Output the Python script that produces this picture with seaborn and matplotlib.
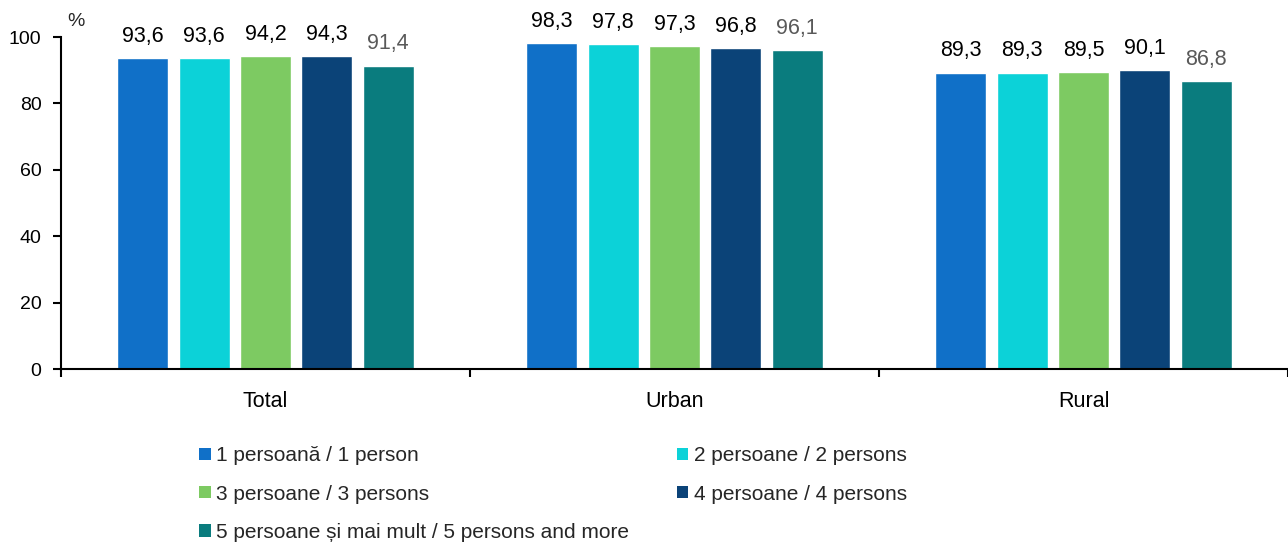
import pandas as pd
import numpy as np
import matplotlib.pyplot as plt
import seaborn as sns
from matplotlib.patches import Patch

areas = ["Total", "Urban", "Rural"]
sizes = ["1 persoană / 1 person", "2 persoane / 2 persons", "3 persoane / 3 persons",
         "4 persoane / 4 persons", "5 persoane și mai mult / 5 persons and more"]
p1 = [93.6, 98.3, 89.3]
p2 = [93.6, 97.8, 89.3]
p3 = [94.2, 97.3, 89.5]
p4 = [94.3, 96.8, 90.1]
p5 = [91.4, 96.1, 86.8]
colors = ["#1070C8", "#0CD2D8", "#7DCA62", "#0B4378", "#0A7C7E"]

rows = []
for s, vals in zip(sizes, [p1, p2, p3, p4, p5]):
    for a, v in zip(areas, vals):
        rows.append({"area": a, "size": s, "value": v})
df = pd.DataFrame(rows)

sns.set_theme(style="white")
plt.rcParams['font.family'] = ['Liberation Sans', 'DejaVu Sans']

fig = plt.figure(figsize=(12.88, 5.43), dpi=100)
ax = fig.add_axes([61/1288, 1 - 369/543, 1 - 61/1288, (369 - 37)/543])

sns.barplot(data=df, x="area", y="value", hue="size", order=areas, hue_order=sizes,
            palette=colors, width=0.75, gap=0.17, saturation=1, ax=ax, legend=False)

for i, cont in enumerate(ax.containers):
    labs = [f"{v:.1f}".replace(".", ",") for v in cont.datavalues]
    ax.bar_label(cont, labels=labs, padding=8, fontsize=15.5,
                 color="#595959" if i == 4 else "black")

ax.set_xlim(-0.5, 2.5)
ax.set_ylim(0, 100)
ax.set_yticks([0, 20, 40, 60, 80, 100])
ax.set_xlabel("")
ax.set_ylabel("")
for sp in ["top", "right"]:
    ax.spines[sp].set_visible(False)
for sp in ["left", "bottom"]:
    ax.spines[sp].set_color("black")
    ax.spines[sp].set_linewidth(1.5)
ax.tick_params(axis="y", left=True, length=6, width=1.5, labelsize=14, pad=8, colors="black")
ax.tick_params(axis="x", bottom=False, labelsize=15.5, pad=10, colors="black")
ax.set_xticks([-0.5, 0.5, 1.5, 2.5], minor=True)
ax.tick_params(axis="x", which="minor", bottom=True, length=6, width=1.5, direction="out", colors="black")

fig.text(67/1288, 1 - 22/543, "%", fontsize=14, ha="left", va="center")

# legend filled row by row like the original
order = [0, 2, 4, 1, 3]
handles = [Patch(facecolor=colors[k], edgecolor="none") for k in order]
labels = [sizes[k] for k in order]
fig.legend(handles, labels, loc="upper left", bbox_to_anchor=(191/1288, 1 - 438/543),
           ncol=2, frameon=False, fontsize=15, handlelength=0.55, handleheight=0.55,
           handletextpad=0.25, columnspacing=2.3, labelspacing=0.92, borderaxespad=0)

fig.savefig("out.png", dpi=100)
